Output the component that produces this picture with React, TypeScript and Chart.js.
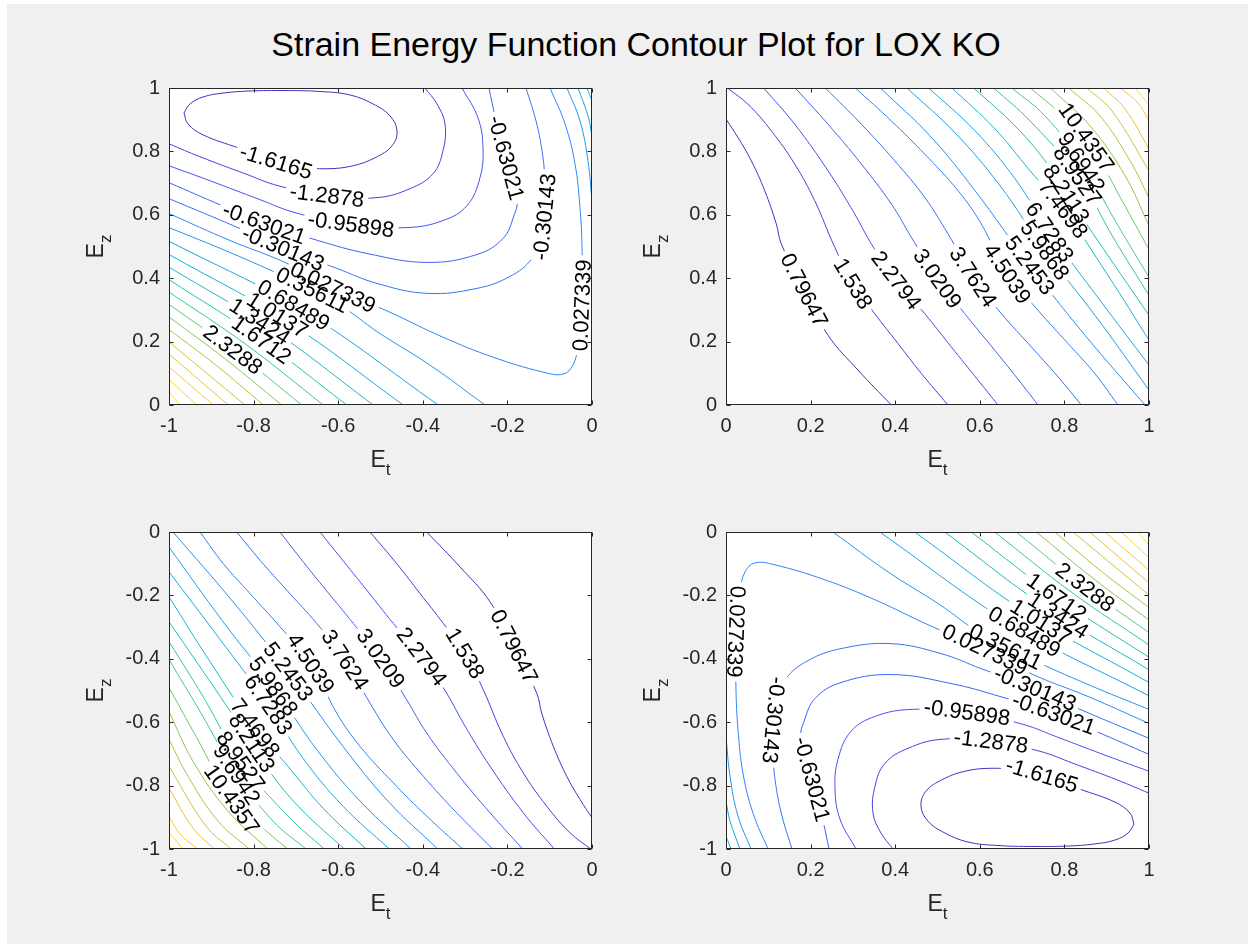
import React, { useEffect, useRef } from "react";
import { Chart, registerables } from "chart.js";

Chart.register(...registerables);

const FONT = '"Liberation Sans", Arial, Helvetica, sans-serif';

// ---------- Panel A (top-left): E_t in [-1,0], E_z in [0,1] ----------
const levelsA = [
  -1.6165, -1.2878, -0.95898, -0.63021, -0.30143, 0.027339, 0.35611, 0.68489, 1.0137, 1.3424,
  1.6712, 2.0001, 2.3288, 2.6576, 2.9863, 3.3151, 3.6439, 3.9727, 4.3014, 4.6302,
];

// [level index, [[E_t, E_z], ...]]
const pathsA: [number, number[][]][] = [
  [0, [[-0.9645, 0.9215], [-0.9504, 0.9497], [-0.9196, 0.9717], [-0.8723, 0.984], [-0.8085, 0.9906], [-0.7258, 0.992], [-0.643, 0.989], [-0.5721, 0.978], [-0.5177, 0.9497], [-0.4775, 0.912], [-0.461, 0.8648], [-0.4728, 0.8176], [-0.513, 0.78], [-0.565, 0.7547], [-0.6265, 0.7453], [-0.6903, 0.7516], [-0.747, 0.7673], [-0.8369, 0.8113], [-0.9196, 0.8522], [-0.9551, 0.8868], [-0.9645, 0.9215]]],
  [1, [[-1, 0.8239], [-0.9267, 0.7831], [-0.8203, 0.7296], [-0.7423, 0.6918], [-0.6265, 0.6604], [-0.5083, 0.6541], [-0.4303, 0.6824], [-0.3759, 0.7296], [-0.3523, 0.8019], [-0.3475, 0.8868], [-0.3665, 0.9497], [-0.3948, 1.0]]],
  [2, [[-1, 0.7547], [-0.9031, 0.7075], [-0.7849, 0.6478], [-0.7021, 0.6069], [-0.5697, 0.5692], [-0.4374, 0.5597], [-0.3523, 0.5818], [-0.2955, 0.6289], [-0.2648, 0.717], [-0.2577, 0.8113], [-0.2695, 0.9057], [-0.3073, 1.0]]],
  [3, [[-1, 0.7013], [-0.8747, 0.6289], [-0.7801, 0.5755], [-0.6478, 0.5189], [-0.5319, 0.478], [-0.3901, 0.4497], [-0.2719, 0.4748], [-0.2104, 0.5252], [-0.1844, 0.5975], [-0.1773, 0.6447], [-0.2033, 0.7799], [-0.2293, 0.9119], [-0.2435, 1.0]]],
  [4, [[-1, 0.6509], [-0.8322, 0.5566], [-0.7305, 0.4937], [-0.6028, 0.4308], [-0.5083, 0.3836], [-0.3901, 0.3522], [-0.2719, 0.3679], [-0.1939, 0.4057], [-0.1418, 0.4623], [-0.1206, 0.5346], [-0.1111, 0.6132], [-0.1111, 0.7075], [-0.1182, 0.8019], [-0.1324, 0.8962], [-0.156, 1.0]]],
  [5, [[-1, 0.6038], [-0.8558, 0.5189], [-0.7258, 0.4497], [-0.6123, 0.3711], [-0.4775, 0.2925], [-0.3522, 0.2138], [-0.234, 0.1509], [-0.1158, 0.1038], [-0.0686, 0.0975], [-0.0449, 0.1258], [-0.0331, 0.1887], [-0.0236, 0.3145], [-0.0236, 0.4969], [-0.0284, 0.6226], [-0.0402, 0.761], [-0.0638, 0.8868], [-0.0993, 1.0]]],
  [6, [[-1, 0.5597], [-0.8558, 0.4811], [-0.7139, 0.3962], [-0.5957, 0.3145], [-0.5059, 0.2296], [-0.383, 0.1258], [-0.253, 0]]],
  [6, [[-0.0591, 1.0], [-0.0284, 0.8962], [-0.0095, 0.7704], [0, 0.6447]]],
  [7, [[-1, 0.5167], [-0.6816, 0.2961], [-0.3634, 0]]],
  [7, [[-0.0331, 1], [-0.0095, 0.912], [0, 0.849]]],
  [8, [[-1, 0.4748], [-0.7231, 0.2657], [-0.4461, 0]]],
  [8, [[-0.0118, 1], [0, 0.959]]],
  [9, [[-1, 0.4349], [-0.7585, 0.2395], [-0.517, 0]]],
  [10, [[-1, 0.3953], [-0.79, 0.2134], [-0.5799, 0]]],
  [11, [[-1, 0.3563], [-0.8176, 0.1907], [-0.6352, 0]]],
  [12, [[-1, 0.3176], [-0.8431, 0.1682], [-0.6863, 0]]],
  [13, [[-1, 0.2777], [-0.8668, 0.1451], [-0.7336, 0]]],
  [14, [[-1, 0.2381], [-0.8885, 0.1253], [-0.7771, 0]]],
  [15, [[-1, 0.1991], [-0.8203, 0]]],
  [16, [[-1, 0.1604], [-0.8598, 0]]],
  [17, [[-1, 0.1204], [-0.8953, 0]]],
  [18, [[-1, 0.0808], [-0.9345, 0]]],
  [19, [[-1, 0.0418], [-0.974, 0]]],
];

// [level index, E_t, E_z] of each inline label
const labelsA: [number, number, number][] = [
  [0, -0.747, 0.767],
  [1, -0.6265, 0.657],
  [2, -0.5697, 0.5723],
  [3, -0.7754, 0.5755],
  [3, -0.2033, 0.7799],
  [4, -0.7305, 0.4937],
  [4, -0.1158, 0.5943],
  [5, -0.6147, 0.3679],
  [5, -0.0236, 0.3145],
  [6, -0.6761, 0.327],
  [7, -0.7187, 0.2987],
  [8, -0.7541, 0.2673],
  [9, -0.792, 0.2421],
  [10, -0.7801, 0.2107],
  [12, -0.8487, 0.1698],
];

// ---------- Panel B (top-right): E_t in [0,1], E_z in [0,1] ----------
const levelsB = [
  0.79647, 1.538, 2.2794, 3.0209, 3.7624, 4.5039, 5.2453, 5.9868, 6.7283, 7.4698, 8.2113,
  8.9527, 9.6942, 10.4357, 11.177, 11.919, 12.66, 13.402, 14.143, 14.885, 15.626,
];

const pathsB: [number, number[][]][] = [
  [0, [[0, 0.9016], [0.0284, 0.8437], [0.0598, 0.7704], [0.0915, 0.6761], [0.1189, 0.5714], [0.1307, 0.5085], [0.1844, 0.3616], [0.2411, 0.2201], [0.3121, 0.1101], [0.3908, 0]]],
  [1, [[0.003, 1.0], [0.052, 0.9487], [0.1071, 0.8648], [0.1624, 0.76], [0.2097, 0.6447], [0.257, 0.4978], [0.3002, 0.3827], [0.3515, 0.2884], [0.4066, 0.194], [0.4617, 0.0997], [0.5248, 0]]],
  [2, [[0.0891, 1.0], [0.1624, 0.8858], [0.2411, 0.739], [0.3043, 0.6028], [0.3435, 0.5085], [0.4026, 0.3931], [0.4697, 0.2884], [0.5326, 0.1833], [0.5957, 0.0786], [0.643, 0]]],
  [3, [[0.1638, 1.0], [0.2411, 0.8858], [0.3199, 0.7601], [0.3908, 0.6343], [0.4381, 0.5292], [0.4972, 0.4035], [0.5643, 0.2884], [0.6352, 0.173], [0.6981, 0.0682], [0.7376, 0]]],
  [4, [[0.2348, 1.0], [0.3199, 0.8858], [0.3988, 0.7704], [0.4697, 0.655], [0.5248, 0.5399], [0.5839, 0.4035], [0.6508, 0.2884], [0.7218, 0.1833], [0.7849, 0.089], [0.84, 0]]],
  [5, [[0.3057, 1], [0.3908, 0.8962], [0.4697, 0.7915], [0.5485, 0.6761], [0.6035, 0.5714], [0.6626, 0.4192], [0.7376, 0.2987], [0.8085, 0.194], [0.8716, 0.0997], [0.9267, 0]]],
  [6, [[0.3648, 1.0], [0.4823, 0.8491], [0.5887, 0.6761], [0.718, 0.4403], [0.8487, 0.2201], [0.9905, 0]]],
  [7, [[0.4279, 1.0], [0.5414, 0.8585], [0.6478, 0.6918], [0.7534, 0.4874], [0.8723, 0.283], [1.0, 0.0472]]],
  [8, [[0.4792, 1], [0.5887, 0.8648], [0.6832, 0.7138], [0.7652, 0.545], [0.8842, 0.3302], [1.0, 0.1258]]],
  [9, [[0.5343, 1], [0.6359, 0.8711], [0.7187, 0.739], [0.7967, 0.6186], [0.9031, 0.4088], [1.0, 0.2044]]],
  [10, [[0.5856, 1], [0.6832, 0.8805], [0.7541, 0.7704], [0.8045, 0.6657], [0.9078, 0.4623], [1.0, 0.283]]],
  [11, [[0.6329, 1], [0.7187, 0.8962], [0.8305, 0.7233], [0.9196, 0.5189], [1.0, 0.3459]]],
  [12, [[0.6761, 1], [0.7541, 0.9119], [0.84, 0.7651], [0.9267, 0.566], [1.0, 0.4025]]],
  [13, [[0.7194, 1], [0.7896, 0.9214], [0.8518, 0.8437], [0.9362, 0.6447], [1.0, 0.4906]]],
  [14, [[0.7667, 1], [0.8605, 0.8805], [0.9433, 0.7233], [1.0, 0.566]]],
  [15, [[0.8102, 1], [0.8842, 0.9119], [0.9551, 0.7704], [1.0, 0.6541]]],
  [16, [[0.8534, 1], [0.9125, 0.9277], [1.0, 0.739]]],
  [17, [[0.8929, 1], [0.9433, 0.934], [1.0, 0.8082]]],
  [18, [[0.9322, 1], [0.974, 0.9528], [1.0, 0.8962]]],
  [19, [[0.9676, 1], [1.0, 0.9465]]],
  [20, [[0.9946, 1], [1.0, 0.9843]]],
];

const labelsB: [number, number, number][] = [
  [0, 0.1844, 0.3616],
  [1, 0.3002, 0.3827],
  [2, 0.4026, 0.3931],
  [3, 0.4972, 0.3984],
  [4, 0.5839, 0.4035],
  [5, 0.6626, 0.4141],
  [6, 0.718, 0.4403],
  [7, 0.7534, 0.4874],
  [8, 0.7652, 0.545],
  [9, 0.7967, 0.6186],
  [10, 0.8045, 0.6657],
  [11, 0.8305, 0.7233],
  [12, 0.84, 0.7651],
  [13, 0.8518, 0.8437],
];

const ticksNeg = [-1, -0.8, -0.6, -0.4, -0.2, 0];
const ticksPos = [0, 0.2, 0.4, 0.6, 0.8, 1];

const TITLE = "Strain Energy Function Contour Plot for LOX KO";

// The lower panels are the point reflection (E_t, E_z) -> (-E_t, -E_z) of the upper ones
const reflectPaths = (ps: [number, number[][]][]) =>
  ps.map(([k, pts]) => [k, pts.map(([x, y]) => [-x, -y])] as [number, number[][]]);
const reflectLabels = (ls: [number, number, number][]) =>
  ls.map(([k, x, y]) => [k, -x, -y] as [number, number, number]);

// ---------- styling ----------
const PARULA = [
  [0.2422, 0.1504, 0.6603],
  [0.281, 0.3228, 0.9579],
  [0.1786, 0.5289, 0.9682],
  [0.0689, 0.6948, 0.8394],
  [0.2161, 0.7843, 0.5923],
  [0.672, 0.7793, 0.2227],
  [0.997, 0.7659, 0.2199],
  [0.9769, 0.9839, 0.0805],
];
function parula(t: number) {
  const n = PARULA.length - 1;
  const p = Math.min(Math.max(t, 0), 1) * n;
  const i = Math.min(Math.floor(p), n - 1);
  const f = p - i;
  const c = [0, 1, 2].map((m) => Math.round(255 * (PARULA[i][m] + (PARULA[i + 1][m] - PARULA[i][m]) * f)));
  return `rgb(${c[0]},${c[1]},${c[2]})`;
}

const AREA_W = 423;
const AREA_H = 318;
const PAD_L = 100;
const PAD_T = 20;
const PAD_R = 25;
const PAD_B = 90;
const CAN_W = PAD_L + AREA_W + PAD_R;
const CAN_H = PAD_T + AREA_H + PAD_B;
const TICK_PX = 20;
const LABEL_PX = 22;
const AXIS_PX = 23;
const SUB_PX = 17;
const AXIS_COLOR = "#262626";

type Panel = {
  levels: number[];
  paths: [number, number[][]][];
  labels: [number, number, number][];
  flip: number[];
  xr: number[];
  yr: number[];
  xt: number[];
  yt: number[];
  left: number;
  top: number;
};

const panels: Panel[] = [
  { levels: levelsA, paths: pathsA, labels: labelsA, flip: [], xr: [-1, 0], yr: [0, 1], xt: ticksNeg, yt: ticksPos, left: 169, top: 87 },
  { levels: levelsB, paths: pathsB, labels: labelsB, flip: [], xr: [0, 1], yr: [0, 1], xt: ticksPos, yt: ticksPos, left: 726, top: 87 },
  { levels: levelsB, paths: reflectPaths(pathsB), labels: reflectLabels(labelsB), flip: [], xr: [-1, 0], yr: [-1, 0], xt: ticksNeg, yt: ticksNeg, left: 169, top: 531 },
  { levels: levelsA, paths: reflectPaths(pathsA), labels: reflectLabels(labelsA), flip: [6, 8], xr: [0, 1], yr: [-1, 0], xt: ticksPos, yt: ticksNeg, left: 726, top: 531 },
];

function fmtTick(v: number) {
  const r = Math.round(v * 10) / 10;
  return r === 0 ? "0" : String(r);
}

function sampleCurve(chart: any, di: number) {
  const meta = chart.getDatasetMeta(di);
  const el: any = meta.dataset;
  if (el && typeof el.updateControlPoints === "function") el.updateControlPoints(chart.chartArea, "x");
  const pts: any[] = meta.data;
  const out: number[][] = [];
  for (let i = 0; i < pts.length - 1; i++) {
    const a = pts[i];
    const b = pts[i + 1];
    const c1x = a.cp2x ?? a.x, c1y = a.cp2y ?? a.y, c2x = b.cp1x ?? b.x, c2y = b.cp1y ?? b.y;
    for (let s = 0; s < 30; s++) {
      const t = s / 30, u = 1 - t;
      out.push([
        u * u * u * a.x + 3 * u * u * t * c1x + 3 * u * t * t * c2x + t * t * t * b.x,
        u * u * u * a.y + 3 * u * u * t * c1y + 3 * u * t * t * c2y + t * t * t * b.y,
      ]);
    }
  }
  const last = pts[pts.length - 1];
  if (last) out.push([last.x, last.y]);
  return out;
}

function makePlugin(panel: Panel) {
  let placed: any[] = [];
  const labelFont = `${LABEL_PX}px ${FONT}`;
  return {
    id: "contourDecor",
    beforeDraw(chart: any) {
      const { ctx, chartArea: a } = chart;
      ctx.save();
      ctx.fillStyle = "#ffffff";
      ctx.fillRect(a.left, a.top, a.right - a.left, a.bottom - a.top);
      ctx.restore();
    },
    beforeDatasetsDraw(chart: any) {
      const ctx = chart.ctx;
      const xs = chart.scales.x, ys = chart.scales.y;
      const samples = panel.paths.map((_, di) => sampleCurve(chart, di));
      ctx.save();
      ctx.font = labelFont;
      placed = panel.labels.map(([k, lx, ly], li) => {
        const px = xs.getPixelForValue(lx), py = ys.getPixelForValue(ly);
        let best: any = null;
        panel.paths.forEach(([kk], di) => {
          if (kk !== k) return;
          const s = samples[di];
          for (let i = 0; i < s.length; i++) {
            const d = (s[i][0] - px) ** 2 + (s[i][1] - py) ** 2;
            if (!best || d < best.d) best = { d, i, di };
          }
        });
        const s = samples[best.di];
        const i0 = Math.max(0, best.i - 4), i1 = Math.min(s.length - 1, best.i + 4);
        let ang = Math.atan2(s[i1][1] - s[i0][1], s[i1][0] - s[i0][0]);
        if (ang > Math.PI / 2) ang -= Math.PI;
        if (ang <= -Math.PI / 2) ang += Math.PI;
        if (panel.flip.includes(li)) ang += Math.PI;
        const text = String(panel.levels[k]);
        const w = ctx.measureText(text).width;
        return { x: s[best.i][0], y: s[best.i][1], ang, text, w, di: best.di };
      });
      ctx.restore();
    },
    beforeDatasetDraw(chart: any, args: any) {
      const { ctx, chartArea: a } = chart;
      ctx.save();
      ctx.beginPath();
      ctx.rect(a.left, a.top, a.right - a.left, a.bottom - a.top);
      placed
        .filter((l) => l.di === args.index)
        .forEach((l) => {
          const hw = l.w / 2 + 4, hh = LABEL_PX * 0.42;
          const c = Math.cos(l.ang), s = Math.sin(l.ang);
          const corners = [
            [-hw, -hh],
            [hw, -hh],
            [hw, hh],
            [-hw, hh],
          ].map(([u, v]) => [l.x + u * c - v * s, l.y + u * s + v * c]);
          ctx.moveTo(corners[0][0], corners[0][1]);
          ctx.lineTo(corners[1][0], corners[1][1]);
          ctx.lineTo(corners[2][0], corners[2][1]);
          ctx.lineTo(corners[3][0], corners[3][1]);
          ctx.closePath();
        });
      ctx.clip("evenodd");
    },
    afterDatasetDraw(chart: any) {
      chart.ctx.restore();
    },
    afterDatasetsDraw(chart: any) {
      const ctx = chart.ctx;
      ctx.save();
      ctx.font = labelFont;
      ctx.fillStyle = "#000000";
      ctx.textAlign = "center";
      ctx.textBaseline = "middle";
      placed.forEach((l) => {
        ctx.save();
        ctx.translate(l.x, l.y);
        ctx.rotate(l.ang);
        ctx.fillText(l.text, 0, 1);
        ctx.restore();
      });
      ctx.restore();
    },
    afterDraw(chart: any) {
      const { ctx, chartArea: a } = chart;
      const xs = chart.scales.x, ys = chart.scales.y;
      ctx.save();
      ctx.strokeStyle = AXIS_COLOR;
      ctx.lineWidth = 1;
      const L = Math.round(a.left) + 0.5, R = Math.round(a.right) - 0.5;
      const T = Math.round(a.top) + 0.5, B = Math.round(a.bottom) - 0.5;
      ctx.strokeRect(L, T, R - L, B - T);
      ctx.beginPath();
      const TL = 4;
      panel.xt.forEach((v) => {
        const p = Math.round(xs.getPixelForValue(v)) + 0.5;
        ctx.moveTo(p, B); ctx.lineTo(p, B - TL);
        ctx.moveTo(p, T); ctx.lineTo(p, T + TL);
      });
      panel.yt.forEach((v) => {
        const p = Math.round(ys.getPixelForValue(v)) + 0.5;
        ctx.moveTo(L, p); ctx.lineTo(L + TL, p);
        ctx.moveTo(R, p); ctx.lineTo(R - TL, p);
      });
      ctx.stroke();

      // axis titles E_t and E_z
      ctx.fillStyle = AXIS_COLOR;
      ctx.textBaseline = "alphabetic";
      ctx.textAlign = "left";
      const big = `${AXIS_PX}px ${FONT}`, small = `${SUB_PX}px ${FONT}`;
      ctx.font = big;
      const wE = ctx.measureText("E").width;
      ctx.font = small;
      const wt = ctx.measureText("t").width;
      const wz = ctx.measureText("z").width;
      const cx = (a.left + a.right) / 2;
      const by = a.bottom + 62;
      ctx.font = big;
      ctx.fillText("E", cx - (wE + wt) / 2, by);
      ctx.font = small;
      ctx.fillText("t", cx - (wE + wt) / 2 + wE, by + 8);

      ctx.translate(a.left - 66, (a.top + a.bottom) / 2);
      ctx.rotate(-Math.PI / 2);
      ctx.font = big;
      ctx.fillText("E", -(wE + wz) / 2, 0);
      ctx.font = small;
      ctx.fillText("z", -(wE + wz) / 2 + wE, 8);
      ctx.restore();
    },
  };
}

function buildConfig(panel: Panel): any {
  const nl = panel.levels.length;
  const datasets = panel.paths.map(([k, pts]) => ({
    data: pts.map(([x, y]) => ({ x, y })),
    showLine: true,
    borderColor: parula((k + 1) / (nl + 1)),
    borderWidth: 1,
    pointRadius: 0,
    pointHoverRadius: 0,
    tension: 0.4,
    fill: false,
    clip: 0,
  }));
  const tickFont = { family: FONT, size: TICK_PX };
  return {
    type: "scatter",
    data: { datasets },
    options: {
      animation: false,
      responsive: false,
      maintainAspectRatio: false,
      events: [],
      layout: { padding: { left: 0, top: PAD_T, right: PAD_R, bottom: 0 } },
      plugins: { legend: { display: false }, tooltip: { enabled: false }, title: { display: false } },
      scales: {
        x: {
          type: "linear",
          min: panel.xr[0],
          max: panel.xr[1],
          afterFit: (s: any) => {
            s.height = PAD_B;
          },
          afterBuildTicks: (s: any) => {
            s.ticks = panel.xt.map((v) => ({ value: v }));
          },
          grid: { display: false, drawTicks: false },
          border: { display: false },
          ticks: { padding: 9, color: AXIS_COLOR, font: tickFont, callback: (v: number) => fmtTick(v), autoSkip: false, maxRotation: 0 },
        },
        y: {
          type: "linear",
          min: panel.yr[0],
          max: panel.yr[1],
          afterFit: (s: any) => {
            s.width = PAD_L;
          },
          afterBuildTicks: (s: any) => {
            s.ticks = panel.yt.map((v) => ({ value: v }));
          },
          grid: { display: false, drawTicks: false },
          border: { display: false },
          ticks: { padding: 9, color: AXIS_COLOR, font: tickFont, callback: (v: number) => fmtTick(v), autoSkip: false },
        },
      },
    },
    plugins: [makePlugin(panel)],
  };
}

function ContourPanel({ panel }: { panel: Panel }) {
  const ref = useRef<HTMLCanvasElement | null>(null);
  useEffect(() => {
    if (!ref.current) return;
    const chart = new Chart(ref.current, buildConfig(panel));
    return () => chart.destroy();
  }, [panel]);
  return (
    <canvas
      ref={ref}
      width={CAN_W}
      height={CAN_H}
      style={{ position: "absolute", left: panel.left - PAD_L, top: panel.top - PAD_T, width: CAN_W, height: CAN_H }}
    />
  );
}

export default function App() {
  return (
    <div style={{ position: "absolute", left: 0, top: 0, width: 1255, height: 951, background: "#ffffff", overflow: "hidden" }}>
      <div style={{ position: "absolute", left: 7, top: 4, width: 1241, height: 940, background: "#f0f0f0" }} />
      <div
        style={{
          position: "absolute",
          left: 0,
          width: 1272,
          top: 24,
          textAlign: "center",
          fontFamily: FONT,
          fontSize: 34,
          lineHeight: "40px",
          color: "#000000",
          whiteSpace: "nowrap",
        }}
      >
        {TITLE}
      </div>
      {panels.map((p, i) => (
        <ContourPanel key={i} panel={p} />
      ))}
    </div>
  );
}
